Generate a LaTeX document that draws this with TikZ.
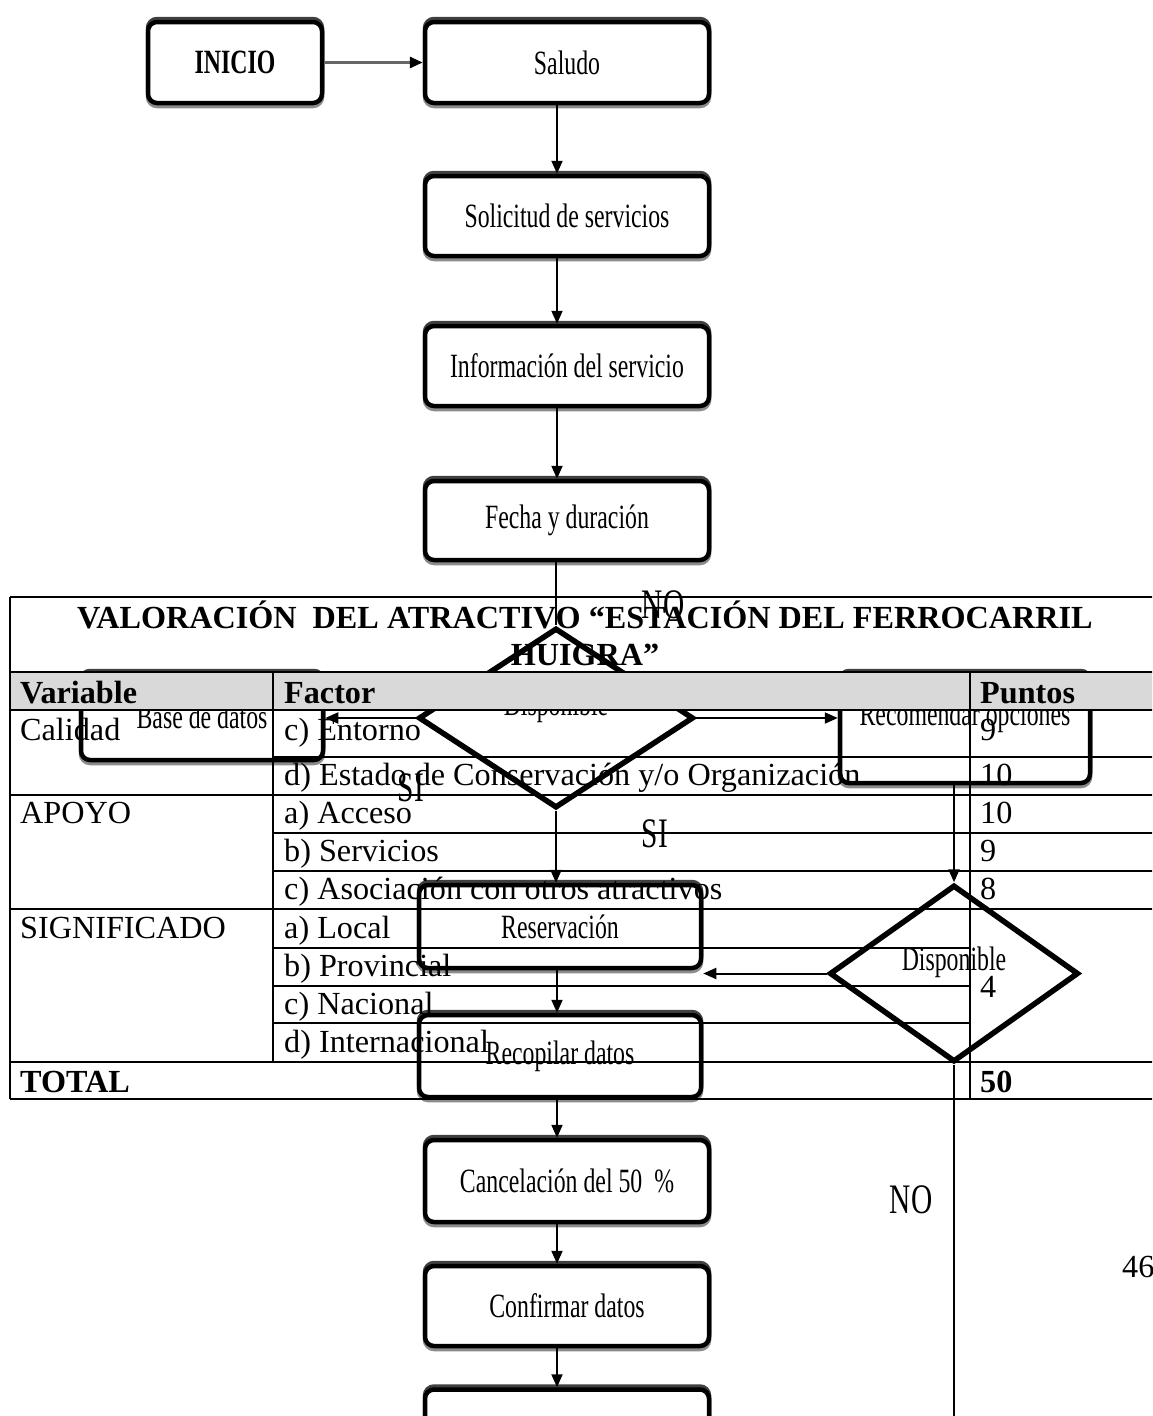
\documentclass[tikz,border=0pt]{standalone}
\usepackage{fontspec}
\setmainfont{Liberation Serif}
\newfontfamily\flujo[FakeStretch=0.7]{Liberation Serif}
\usetikzlibrary{shapes.geometric,arrows.meta}
\tikzset{
  caja/.style={draw, line width=4.5pt, rounded corners=9pt, fill=white,
    minimum width=284pt, minimum height=81pt, inner sep=0pt,
    font=\flujo\fontsize{34}{34}\selectfont,
    preaction={draw=black!75, line width=4.5pt, transform canvas={yshift=3pt}},
    preaction={draw=black!45, line width=4.5pt, transform canvas={yshift=-3pt}}},
  rombo/.style={diamond, draw, line width=5.5pt, fill=white, inner sep=0pt,
    text height=23pt, text depth=29pt, font=\flujo\fontsize{34}{34}\selectfont},
  flecha/.style={line width=2pt, -{Triangle[length=13pt,width=11pt,black]}},
  linea/.style={line width=2pt},
  rotulo/.style={font=\flujo\fontsize{42}{42}\selectfont},
  celda/.style={anchor=base west, inner sep=0pt, font=\fontsize{32.2}{38}\selectfont},
  titulo/.style={anchor=base west, inner sep=0pt, font=\bfseries\fontsize{32.2}{38}\selectfont}
}
\begin{document}
\begin{tikzpicture}[x=1pt,y=-1pt]
\useasboundingbox (0,0) rectangle (1152,1416);
\clip (0,0) rectangle (1152,1416);
\coordinate (eje) at (557,0);
\node[caja, minimum width=174pt, font=\flujo\bfseries\fontsize{34}{34}\selectfont] (inicio) at (235,62.5) {INICIO};
\node[caja] (saludo) at (567,62.5) {Saludo};
\node[caja, minimum height=80pt] (solicitud) at (567,216) {Solicitud de servicios};
\node[caja, minimum height=80pt] (informacion) at (567,366) {Información del servicio};
\node[caja, minimum height=79pt] (fecha) at (567,520.5) {Fecha y duración};
\node[caja, minimum width=242pt, minimum height=86pt] (base) at (202,717) {Base de datos};
\node[caja, minimum width=250pt, minimum height=109pt, text height=23pt, text depth=30pt] (recomendar) at (965,728.5) {Recomendar opciones};
\node[caja, minimum width=282pt, minimum height=83pt] (reservacion) at (560,926.5) {Reservación};
\node[caja, minimum width=282pt, minimum height=82pt] (recopilar) at (560,1056) {Recopilar datos};
\node[caja, minimum height=82pt] (cancelacion) at (567,1181) {Cancelación del 50\ \ \%};
\node[caja, minimum height=80pt] (confirmar) at (567,1306) {Confirmar datos};
\node[caja] (ultimo) at (567,1430) {};
\node[rombo, minimum width=275pt, minimum height=180pt] (disp1) at (556,718) {Disponible};
\node[rombo, minimum width=249pt, minimum height=177pt] (disp2) at (954,973.5) {Disponible};
\coordinate (fin) at (954,1430);

\draw[flecha, draw=black!60, line width=3pt] (inicio.east) -- (saludo.west);
\draw[flecha] (saludo.south -| eje) -- (solicitud.north -| eje);
\draw[flecha] (solicitud.south -| eje) -- (informacion.north -| eje);
\draw[flecha] (informacion.south -| eje) -- (fecha.north -| eje);
\draw[linea] (fecha.south -| disp1) -- (disp1.north);
\draw[flecha] (disp1.east) -- (disp1.east -| recomendar.west);
\draw[flecha] (disp1.west) -- (disp1.west -| base.east);
\draw[flecha] (disp1.south) -- (reservacion.north -| disp1);
\draw[flecha] (recomendar.south -| disp2) -- (disp2.north);
\draw[flecha] (disp2.west) -- (disp2.west -| reservacion.east);
\draw[flecha] (reservacion.south -| eje) -- (recopilar.north -| eje);
\draw[flecha] (recopilar.south -| eje) -- (cancelacion.north -| eje);
\draw[flecha] (cancelacion.south -| eje) -- (confirmar.north -| eje);
\draw[flecha] (confirmar.south -| eje) -- (ultimo.north -| eje);
\draw[linea] (disp2.south) -- (fin);

\node[rotulo] (no1) at (663,605) {NO};
\node[rotulo] (si1) at (411,788) {SI};
\node[rotulo] (si2) at (655,834) {SI};
\node[rotulo] (no2) at (911,1200) {NO};

\fill[gray!30] (10,672) rectangle (1160,710);
\foreach \y in {597,672,710,795,909,1062,1099} \draw[linea] (10,\y) -- (1160,\y);
\foreach \y in {757,833,871} \draw[linea] (273,\y) -- (1160,\y);
\foreach \y in {948,986,1023} \draw[linea] (273,\y) -- (970,\y);
\draw[linea] (10,597) -- (10,1099);
\draw[linea] (273,672) -- (273,1062);
\draw[linea] (970,672) -- (970,1099);

\node[titulo, anchor=base] (tit1) at (585,628) {VALORACIÓN\ \ DEL ATRACTIVO “ESTACIÓN DEL FERROCARRIL};
\node[titulo, anchor=base] (tit2) at (585,665) {HUIGRA”};
\node[titulo] (hvar) at (20,703) {Variable};
\node[titulo] (hfac) at (284,703) {Factor};
\node[titulo] (hpun) at (980,703) {Puntos};
\node[celda] (calidad) at (20,740) {Calidad};
\node[celda] (f1) at (284,740) {c) Entorno};
\node[celda] (p1) at (980,740) {9};
\node[celda] (f2) at (284,785) {d) Estado de Conservación y/o Organización};
\node[celda] (p2) at (980,785) {10};
\node[celda] (apoyo) at (20,823) {APOYO};
\node[celda] (f3) at (284,823) {a) Acceso};
\node[celda] (p3) at (980,823) {10};
\node[celda] (f4) at (284,861) {b) Servicios};
\node[celda] (p4) at (980,861) {9};
\node[celda] (f5) at (284,899) {c) Asociación con otros atractivos};
\node[celda] (p5) at (980,899) {8};
\node[celda] (significado) at (20,938) {SIGNIFICADO};
\node[celda] (f6) at (284,938) {a) Local};
\node[celda] (f7) at (284,976) {b) Provincial};
\node[celda] (f8) at (284,1014) {c) Nacional};
\node[celda] (f9) at (284,1052) {d) Internacional};
\node[celda] (p6) at (980,997) {4};
\node[titulo] (total) at (20,1092) {TOTAL};
\node[titulo] (p7) at (980,1092) {50};
\node[celda] (pagina) at (1122,1277) {46};
\end{tikzpicture}
\end{document}
